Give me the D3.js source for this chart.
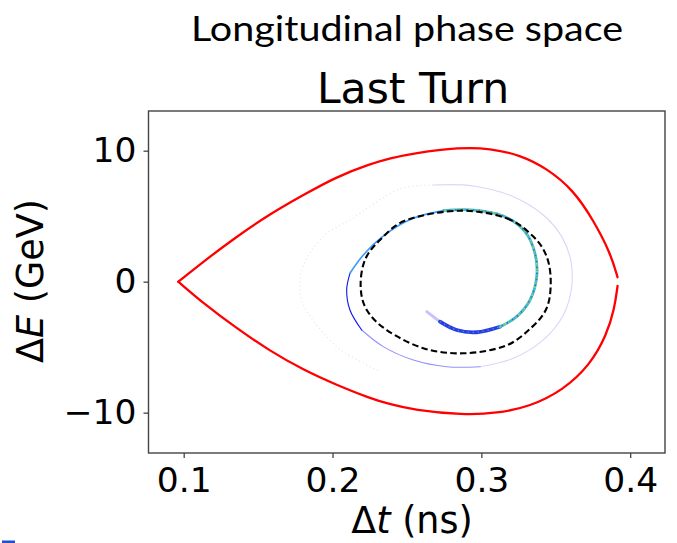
<!DOCTYPE html>
<html>
<head>
<meta charset="utf-8">
<script src="https://cdn.jsdelivr.net/npm/d3@7"></script>
<style>
  body { margin: 0; background: #fff; }
  svg { display: block; }
</style>
</head>
<body>
<svg id="chart"></svg>
<script>
// ticks
const xTickValues = [0.1, 0.2, 0.3, 0.4];
const xTickLabels = ["0.1", "0.2", "0.3", "0.4"];
const yTickValues = [-10, 0, 10];
const yTickLabels = ["\u221210", "0", "10"];

// separatrix [dt (ns), dE (GeV)], both branches start at the cusp
const separatrixUpper = [[0.0964, 0], [0.1132, 1.53], [0.1356, 3.44], [0.1580, 5.17], [0.1804, 6.62],
  [0.2028, 8.02], [0.2252, 8.98], [0.2386, 9.42], [0.2543, 9.80], [0.2857, 10.26], [0.3058, 10.18],
  [0.3260, 9.67], [0.3439, 8.66], [0.3618, 7.00], [0.3752, 4.71], [0.3868, 2.17], [0.3915, 0.34]];
const separatrixLower = [[0.0964, 0], [0.1132, -1.65], [0.1356, -3.56], [0.1580, -5.29], [0.1804, -6.74],
  [0.2028, -7.89], [0.2252, -8.90], [0.2386, -9.36], [0.2543, -9.79], [0.2879, -10.18], [0.3103, -10.05],
  [0.3327, -9.54], [0.3551, -8.27], [0.3730, -6.36], [0.3842, -4.07], [0.3895, -2.03], [0.3915, -0.33]];

// dashed contour (closed)
const bucketContour = [[0.2857, 5.42], [0.3170, 4.84], [0.3349, 3.44], [0.3439, 1.91], [0.3466, -0.02],
  [0.3439, -2.01], [0.3334, -3.53], [0.3159, -4.91], [0.2879, -5.47], [0.2610, -5.08], [0.2364, -3.69],
  [0.2230, -2.16], [0.2189, -0.38], [0.2218, 1.66], [0.2319, 3.18], [0.2498, 4.71]];

// particle spiral, split by density
const spiralTail = [[0.2633, -2.29], [0.2680, -2.70], [0.2722, -3.05]];
const spiralCore = [[0.2722, -3.05], [0.2834, -3.69], [0.2969, -3.86], [0.3125, -3.44]];
const spiralDense = [[0.3125, -3.44], [0.3237, -2.67], [0.3327, -1.40], [0.3372, 0.38], [0.3360, 2.17],
  [0.3293, 3.82], [0.3147, 5.02], [0.2946, 5.47], [0.2744, 5.42]];
const spiralUpperLeft = [[0.2744, 5.42], [0.2543, 4.84], [0.2364, 3.69], [0.2207, 2.04], [0.2117, 0.64]];
const spiralLeft = [[0.2117, 0.64], [0.2095, -0.63], [0.2117, -2.16], [0.2196, -3.69]];
const spiralLowerLeft = [[0.2196, -3.69], [0.2341, -4.96], [0.2543, -5.98], [0.2767, -6.49], [0.2991, -6.49]];
const spiralSecondTurn = [[0.2991, -6.49], [0.3215, -5.85], [0.3416, -4.45], [0.3551, -2.54], [0.3607, -0.38],
  [0.3600, 1.66], [0.3540, 3.44], [0.3416, 5.09], [0.3215, 6.49], [0.2946, 7.31], [0.2677, 7.38]];
const spiralOuter = [[0.2677, 7.38], [0.2453, 7.08], [0.2117, 4.71], [0.1961, 3.69], [0.1849, 2.17],
  [0.1793, 0.89], [0.1781, -0.50], [0.1804, -1.78], [0.2028, -4.96], [0.2230, -6.36], [0.2319, -6.87]];

const settings = {
  width: 677,
  height: 543,
  margin: { top: 111, left: 148.5, right: 12, bottom: 90 },
  font: "'DejaVu Sans', sans-serif",
  tickFont: 34.5,
  labelFont: 36.5
};

const plotW = settings.width - settings.margin.left - settings.margin.right;
const plotH = settings.height - settings.margin.top - settings.margin.bottom;

const xScale = d3.scaleLinear().domain([0.07635, 0.42338]).range([0, plotW]);
const yScale = d3.scaleLinear().domain([-13.08, 13.03]).range([plotH, 0]);

const svg = d3.select("#chart")
  .attr("width", settings.width)
  .attr("height", settings.height);

// titles
svg.append("text")
  .attr("x", 407).attr("y", 41)
  .attr("text-anchor", "middle")
  .attr("textLength", 432).attr("lengthAdjust", "spacingAndGlyphs")
  .style("font-family", "Lato, 'Open Sans', sans-serif")
  .style("font-size", "35px")
  .attr("fill", "#000")
  .text("Longitudinal phase space");

svg.append("text")
  .attr("x", 413).attr("y", 102.5)
  .attr("text-anchor", "middle")
  .style("font-family", settings.font)
  .style("font-size", "42.5px")
  .attr("fill", "#000")
  .text("Last Turn");

const g = svg.append("g")
  .attr("transform", "translate(" + [settings.margin.left, settings.margin.top] + ")");

const line = d3.line()
  .x(d => xScale(d[0]))
  .y(d => yScale(d[1]))
  .curve(d3.curveCatmullRom.alpha(0.5));

const smoothLine = d3.line()
  .x(d => xScale(d[0]))
  .y(d => yScale(d[1]))
  .curve(d3.curveBasis);

const closedLine = d3.line()
  .x(d => xScale(d[0]))
  .y(d => yScale(d[1]))
  .curve(d3.curveCardinalClosed.tension(0));

function stroke(data, color, width, opts) {
  opts = opts || {};
  return g.append("path")
    .attr("d", (opts.gen || line)(data))
    .attr("fill", "none")
    .attr("stroke", color)
    .attr("stroke-width", width)
    .attr("stroke-opacity", opts.opacity == null ? 1 : opts.opacity)
    .attr("stroke-dasharray", opts.dash || null)
    .attr("stroke-dashoffset", opts.offset || 0)
    .attr("stroke-linecap", opts.cap || "round");
}

// particles
stroke(spiralOuter, "#9a9af5", 1.2, { opacity: 0.3, dash: "1,3", cap: "butt" });
stroke(spiralSecondTurn, "#7c7cf0", 1.1, { opacity: 0.3 });
stroke(spiralLowerLeft, "#4a4af0", 1.1, { opacity: 0.6 });
stroke(spiralLeft, "#1010f0", 1.1);
stroke(spiralUpperLeft, "#3d9bff", 1.7);
stroke(spiralTail, "#5a5ae8", 3, { opacity: 0.35 });
stroke(spiralCore, "#2a3ee0", 3.8);
stroke(spiralCore, "#3aa8e8", 1.4, { dash: "1,4", cap: "butt" });
stroke(spiralDense, "#3ab8d8", 2.8);
stroke(spiralDense, "#78d060", 2, { dash: "1.5,3", cap: "butt" });
stroke(spiralDense, "#e0c840", 1.6, { dash: "1,7", offset: 2, cap: "butt" });
stroke(spiralDense, "#3058e8", 1.6, { dash: "1,5", offset: 4, cap: "butt" });

// dashed contour
g.append("path")
  .attr("d", closedLine(bucketContour))
  .attr("fill", "none")
  .attr("stroke", "#000")
  .attr("stroke-width", 2.1)
  .attr("stroke-dasharray", "6.5,3.3");

// separatrix
[separatrixUpper, separatrixLower].forEach(branch => {
  stroke(branch, "#ff0000", 2.3, { gen: smoothLine });
});

// frame
g.append("rect")
  .attr("width", plotW).attr("height", plotH)
  .attr("fill", "none")
  .attr("stroke", "#444")
  .attr("stroke-width", 1.4);

// axes
const xAxis = d3.axisBottom(xScale)
  .tickValues(xTickValues)
  .tickFormat((d, i) => xTickLabels[i])
  .tickSize(5).tickPadding(10);
const yAxis = d3.axisLeft(yScale)
  .tickValues(yTickValues)
  .tickFormat((d, i) => yTickLabels[i])
  .tickSize(5).tickPadding(7);

const gx = g.append("g").attr("transform", "translate(0," + plotH + ")").call(xAxis);
const gy = g.append("g").call(yAxis);
[gx, gy].forEach(a => {
  a.select(".domain").remove();
  a.selectAll(".tick line").attr("stroke", "#444").attr("stroke-width", 1.3);
  a.selectAll(".tick text")
    .attr("fill", "#000")
    .style("font-family", settings.font)
    .style("font-size", settings.tickFont + "px");
});

// axis titles
const xTitle = svg.append("text")
  .attr("x", 412).attr("y", 533)
  .attr("text-anchor", "middle")
  .style("font-family", settings.font)
  .style("font-size", settings.labelFont + "px")
  .attr("fill", "#000");
xTitle.append("tspan").text("\u0394");
xTitle.append("tspan").style("font-style", "italic").text("t");
xTitle.append("tspan").text(" (ns)");

const yTitle = svg.append("text")
  .attr("transform", "translate(43,281) rotate(-90)")
  .attr("text-anchor", "middle")
  .style("font-family", settings.font)
  .style("font-size", settings.labelFont + "px")
  .attr("fill", "#000");
yTitle.append("tspan").text("\u0394");
yTitle.append("tspan").style("font-style", "italic").text("E");
yTitle.append("tspan").text(" (GeV)");

// slide artefact at the bottom-left corner
svg.append("rect")
  .attr("x", 2).attr("y", 540.5).attr("width", 13).attr("height", 2.5)
  .attr("fill", "#1f4fd0");
</script>
</body>
</html>
